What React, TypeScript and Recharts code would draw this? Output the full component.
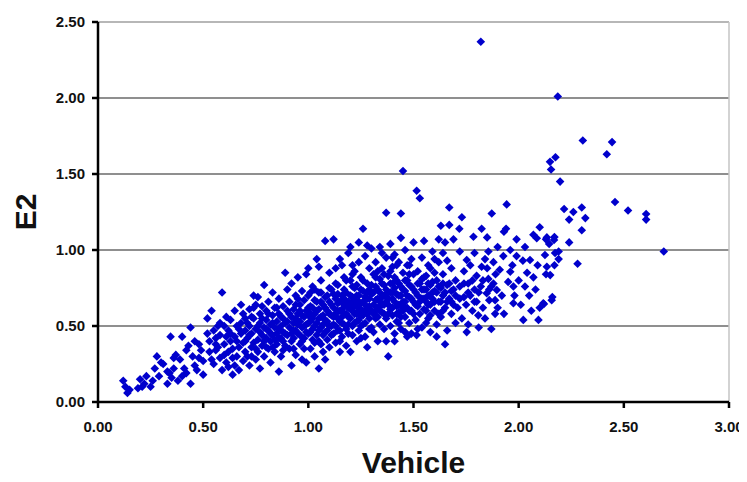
import {
  ScatterChart,
  Scatter,
  XAxis,
  YAxis,
  CartesianGrid,
  ReferenceLine,
  Label
} from 'recharts'

// points, grouped by Vehicle band: [Vehicle, E2]
const lowTail: Array<[number, number]> = [
  [0.12, 0.14], [0.13, 0.10], [0.14, 0.06], [0.15, 0.08], [0.20, 0.15], [0.21, 0.10], [0.22, 0.12],
  [0.23, 0.17], [0.25, 0.10], [0.26, 0.14], [0.28, 0.30], [0.29, 0.17], [0.27, 0.22], [0.30, 0.26],
  [0.19, 0.09],
  [0.31, 0.25], [0.33, 0.12], [0.34, 0.19], [0.345, 0.43], [0.35, 0.16], [0.36, 0.22], [0.37, 0.31],
  [0.38, 0.14], [0.39, 0.28], [0.40, 0.43], [0.40, 0.17], [0.41, 0.22], [0.42, 0.19], [0.43, 0.37],
  [0.44, 0.49], [0.44, 0.12], [0.45, 0.30], [0.46, 0.24], [0.47, 0.21], [0.48, 0.29], [0.48, 0.38],
  [0.49, 0.34], [0.50, 0.18], [0.50, 0.27], [0.36, 0.29], [0.33, 0.20], [0.42, 0.34], [0.46, 0.40]
]

const rising: Array<[number, number]> = [
  [0.52, 0.45], [0.52, 0.55], [0.53, 0.33], [0.54, 0.60], [0.55, 0.25], [0.56, 0.34], [0.56, 0.42],
  [0.57, 0.50], [0.58, 0.29], [0.59, 0.72], [0.59, 0.21], [0.60, 0.38], [0.61, 0.43], [0.61, 0.26],
  [0.62, 0.47], [0.62, 0.33], [0.63, 0.54], [0.63, 0.40], [0.64, 0.18], [0.64, 0.29], [0.65, 0.60],
  [0.65, 0.43], [0.66, 0.30], [0.66, 0.50], [0.67, 0.36], [0.67, 0.21], [0.68, 0.64], [0.68, 0.45],
  [0.69, 0.39], [0.69, 0.27], [0.70, 0.47], [0.70, 0.55], [0.53, 0.40], [0.57, 0.36], [0.60, 0.50],
  [0.58, 0.44], [0.54, 0.28], [0.66, 0.40], [0.62, 0.23], [0.70, 0.33], [0.68, 0.52], [0.55, 0.47],
  [0.71, 0.30], [0.71, 0.42], [0.72, 0.61], [0.72, 0.24], [0.72, 0.50], [0.73, 0.36], [0.73, 0.45],
  [0.74, 0.39], [0.74, 0.70], [0.74, 0.55], [0.75, 0.64], [0.75, 0.28], [0.75, 0.48], [0.76, 0.69],
  [0.76, 0.41], [0.76, 0.33], [0.77, 0.52], [0.77, 0.58], [0.77, 0.22], [0.78, 0.44], [0.78, 0.37],
  [0.78, 0.63], [0.79, 0.77], [0.79, 0.49], [0.79, 0.30], [0.80, 0.54], [0.80, 0.42], [0.80, 0.60],
  [0.81, 0.35], [0.81, 0.47], [0.81, 0.66], [0.82, 0.26], [0.82, 0.51], [0.82, 0.40], [0.83, 0.57],
  [0.83, 0.44], [0.83, 0.72], [0.84, 0.33], [0.84, 0.49], [0.84, 0.62], [0.85, 0.38], [0.85, 0.53],
  [0.85, 0.45], [0.86, 0.20], [0.86, 0.58], [0.86, 0.68], [0.87, 0.42], [0.87, 0.50], [0.87, 0.30],
  [0.88, 0.55], [0.88, 0.63], [0.88, 0.46], [0.89, 0.85], [0.89, 0.37], [0.89, 0.52], [0.90, 0.60],
  [0.90, 0.44], [0.90, 0.74], [0.73, 0.56], [0.71, 0.52], [0.76, 0.50], [0.80, 0.36], [0.84, 0.41],
  [0.86, 0.48], [0.88, 0.40]
]

const core: Array<[number, number]> = [
  [0.91, 0.49], [0.91, 0.66], [0.91, 0.35], [0.92, 0.56], [0.92, 0.24], [0.92, 0.78], [0.93, 0.42],
  [0.93, 0.61], [0.93, 0.52], [0.94, 0.47], [0.94, 0.70], [0.94, 0.31], [0.95, 0.58], [0.95, 0.45],
  [0.95, 0.82], [0.96, 0.38], [0.96, 0.53], [0.96, 0.64], [0.97, 0.49], [0.97, 0.73], [0.97, 0.28],
  [0.98, 0.56], [0.98, 0.42], [0.98, 0.67], [0.99, 0.26], [0.99, 0.51], [0.99, 0.60], [1.00, 0.88],
  [1.00, 0.45], [1.00, 0.57], [1.00, 0.70], [1.01, 0.35], [1.01, 0.53], [1.01, 0.63], [1.02, 0.48],
  [1.02, 0.76], [1.02, 0.41], [1.03, 0.58], [1.03, 0.67], [1.03, 0.30], [1.04, 0.52], [1.04, 0.94],
  [1.04, 0.44], [1.05, 0.22], [1.05, 0.61], [1.05, 0.55], [1.05, 0.72], [1.06, 0.38], [1.06, 0.49],
  [1.06, 0.80], [1.07, 0.57], [1.07, 0.64], [1.07, 0.33], [1.08, 0.28], [1.08, 0.46], [1.08, 0.54],
  [1.08, 1.06], [1.09, 0.60], [1.09, 0.70], [1.09, 0.41], [1.10, 0.50], [1.10, 0.66], [1.10, 0.85],
  [1.10, 0.36], [0.92, 0.45], [0.94, 0.55], [0.96, 0.60], [0.98, 0.50], [1.00, 0.62], [1.02, 0.55],
  [1.04, 0.60], [1.06, 0.66], [1.08, 0.62], [0.95, 0.68], [0.97, 0.40], [1.01, 0.46], [1.03, 0.74],
  [1.07, 0.51], [1.09, 0.53], [0.93, 0.35], [0.99, 0.84], [1.05, 0.89],
  [1.11, 0.57], [1.11, 0.74], [1.11, 0.44], [1.12, 1.07], [1.12, 0.62], [1.12, 0.51], [1.13, 0.39],
  [1.13, 0.68], [1.13, 0.88], [1.14, 0.55], [1.14, 0.47], [1.14, 0.77], [1.15, 0.60], [1.15, 0.33],
  [1.15, 0.94], [1.16, 0.52], [1.16, 0.70], [1.16, 0.43], [1.17, 0.64], [1.17, 0.82], [1.17, 0.58],
  [1.18, 0.48], [1.18, 0.37], [1.18, 0.72], [1.19, 0.56], [1.19, 0.98], [1.19, 0.66], [1.20, 0.33],
  [1.20, 0.61], [1.20, 0.80], [1.21, 0.50], [1.21, 0.69], [1.21, 0.44], [1.22, 0.58], [1.22, 0.86],
  [1.22, 0.75], [1.23, 0.63], [1.23, 0.40], [1.23, 0.53], [1.24, 0.92], [1.24, 0.70], [1.24, 0.47],
  [1.25, 0.57], [1.25, 0.82], [1.25, 0.65], [1.26, 1.14], [1.26, 0.51], [1.26, 0.73], [1.27, 0.60],
  [1.27, 0.43], [1.27, 0.96], [1.28, 0.36], [1.28, 0.68], [1.28, 0.78], [1.29, 0.55], [1.29, 0.88],
  [1.29, 0.63], [1.30, 0.49], [1.30, 1.01], [1.30, 0.71], [1.12, 0.71], [1.14, 0.65], [1.16, 0.61],
  [1.18, 0.64], [1.20, 0.70], [1.22, 0.67], [1.24, 0.60], [1.26, 0.66], [1.28, 0.58], [1.13, 0.58],
  [1.15, 0.53], [1.17, 0.74], [1.19, 0.45], [1.21, 0.84], [1.23, 0.77], [1.25, 0.42], [1.27, 0.69],
  [1.29, 0.74], [1.11, 0.50], [1.16, 0.90], [1.20, 1.02], [1.28, 1.03], [1.24, 1.05]
]

// extra marks where the reference cloud is nearly solid
const coreFill: Array<[number, number]> = [
  [0.56, 0.38], [0.58, 0.52], [0.60, 0.31], [0.61, 0.56], [0.63, 0.45], [0.64, 0.35], [0.65, 0.24],
  [0.67, 0.48], [0.69, 0.58], [0.70, 0.40], [0.72, 0.44], [0.73, 0.30], [0.74, 0.62], [0.75, 0.35],
  [0.77, 0.46], [0.78, 0.55], [0.79, 0.40], [0.80, 0.48], [0.81, 0.58], [0.82, 0.45], [0.83, 0.36],
  [0.83, 0.52], [0.85, 0.62], [0.86, 0.42], [0.87, 0.56], [0.88, 0.34], [0.89, 0.45], [0.90, 0.53],
  [0.91, 0.58], [0.92, 0.40], [0.93, 0.47], [0.94, 0.64], [0.95, 0.51], [0.96, 0.44], [0.97, 0.57],
  [0.98, 0.35], [0.99, 0.46], [1.00, 0.52], [1.01, 0.72], [1.01, 0.58], [1.02, 0.62], [1.03, 0.50],
  [1.03, 0.39], [1.04, 0.66], [1.05, 0.47], [1.06, 0.56], [1.06, 0.72], [1.07, 0.44], [1.08, 0.69],
  [1.09, 0.47], [1.10, 0.58], [1.10, 0.75], [1.11, 0.64], [1.12, 0.45], [1.12, 0.56], [1.13, 0.50],
  [1.14, 0.60], [1.14, 0.71], [1.15, 0.66], [1.15, 0.47], [1.16, 0.56], [1.17, 0.51], [1.17, 0.68],
  [1.18, 0.58], [1.18, 0.80], [1.19, 0.62], [1.19, 0.51], [1.20, 0.55], [1.20, 0.65], [1.21, 0.60],
  [1.21, 0.76], [1.22, 0.52], [1.22, 0.63], [1.23, 0.70], [1.23, 0.58], [1.24, 0.54], [1.24, 0.66],
  [1.25, 0.74], [1.25, 0.61], [1.26, 0.57], [1.26, 0.80], [1.27, 0.64], [1.27, 0.52], [1.28, 0.72],
  [1.28, 0.62], [1.29, 0.68], [1.29, 0.48], [1.30, 0.60], [1.30, 0.77], [1.05, 0.40], [1.15, 0.40],
  [1.25, 0.50], [1.13, 0.78], [1.21, 0.90],
  [1.31, 0.64], [1.31, 0.72], [1.32, 0.60], [1.32, 0.82], [1.33, 0.68], [1.33, 0.56], [1.34, 0.72],
  [1.34, 0.66], [1.35, 0.64], [1.35, 0.78], [1.36, 0.58], [1.36, 0.84], [1.37, 0.66], [1.37, 0.74],
  [1.38, 0.58], [1.38, 0.68], [1.39, 0.72], [1.39, 0.78], [1.40, 0.62], [1.40, 0.72], [1.41, 0.66],
  [1.41, 0.82], [1.42, 0.58], [1.42, 0.90], [1.43, 0.64], [1.43, 0.78], [1.44, 0.70], [1.44, 0.56],
  [1.45, 0.74], [1.45, 0.60], [1.46, 0.80], [1.46, 0.62], [1.47, 0.70], [1.47, 0.90], [1.48, 0.60],
  [1.48, 0.84], [1.49, 0.68], [1.49, 0.94], [1.50, 0.74], [1.50, 0.58], [1.51, 0.64], [1.52, 0.78],
  [1.53, 0.66], [1.54, 0.74], [1.55, 0.68], [1.55, 0.82], [1.56, 0.74], [1.57, 0.78], [1.58, 0.64],
  [1.59, 0.72], [1.60, 0.66], [1.61, 0.72], [1.62, 0.76], [1.63, 0.66], [1.64, 0.78], [1.65, 0.72],
  [1.66, 0.66], [1.67, 0.78], [1.68, 0.66], [1.70, 0.70], [1.72, 0.68], [1.74, 0.78], [1.76, 0.72],
  [1.78, 0.80], [1.79, 0.66], [1.81, 0.72], [1.83, 0.80], [1.86, 0.74], [1.88, 0.78], [1.41, 0.40],
  [1.46, 0.46], [1.52, 0.48], [1.56, 0.60], [1.60, 0.94], [1.64, 0.98], [1.57, 0.55], [1.40, 0.95]
]

const upperMid: Array<[number, number]> = [
  [1.31, 0.58], [1.31, 0.84], [1.31, 0.46], [1.32, 0.67], [1.32, 0.92], [1.32, 0.55], [1.33, 0.74],
  [1.33, 0.40], [1.33, 0.62], [1.34, 0.81], [1.34, 0.51], [1.34, 1.02], [1.35, 0.69], [1.35, 0.59],
  [1.35, 0.88], [1.36, 0.48], [1.36, 0.77], [1.36, 0.64], [1.37, 1.245], [1.37, 0.40], [1.37, 0.55],
  [1.37, 0.95], [1.38, 0.30], [1.38, 0.72], [1.38, 0.83], [1.39, 0.61], [1.39, 0.50], [1.39, 1.04],
  [1.40, 0.68], [1.40, 0.89], [1.40, 0.57], [1.41, 0.75], [1.41, 0.45], [1.41, 0.97], [1.42, 0.63],
  [1.42, 0.80], [1.42, 0.53], [1.43, 0.70], [1.43, 0.92], [1.43, 0.59], [1.44, 1.24], [1.44, 0.76],
  [1.44, 0.48], [1.44, 1.08], [1.45, 1.52], [1.45, 0.66], [1.45, 0.85], [1.46, 0.56], [1.46, 0.73],
  [1.46, 1.00], [1.47, 0.62], [1.47, 0.43], [1.47, 0.80], [1.48, 0.69], [1.48, 0.90], [1.48, 0.52],
  [1.49, 0.76], [1.49, 0.60], [1.50, 0.84], [1.50, 0.66], [1.50, 1.05], [1.32, 0.76], [1.34, 0.60],
  [1.36, 0.70], [1.38, 0.64], [1.40, 0.78], [1.42, 0.71], [1.44, 0.63], [1.46, 0.66], [1.48, 0.77],
  [1.33, 0.86], [1.39, 0.86], [1.43, 0.52], [1.49, 0.45], [1.35, 0.98],
  [1.51, 0.54], [1.51, 0.72], [1.515, 1.39], [1.515, 0.44], [1.52, 0.63], [1.52, 0.86], [1.53, 1.34],
  [1.53, 0.58], [1.53, 0.78], [1.54, 0.49], [1.54, 0.68], [1.54, 0.95], [1.55, 0.74], [1.55, 0.61],
  [1.55, 1.06], [1.56, 0.52], [1.56, 0.83], [1.57, 0.70], [1.57, 0.64], [1.57, 0.90], [1.58, 0.57],
  [1.58, 0.77], [1.58, 0.46], [1.59, 0.68], [1.59, 0.99], [1.60, 0.73], [1.60, 0.60], [1.60, 0.85],
  [1.61, 0.51], [1.61, 0.80], [1.61, 0.43], [1.62, 0.66], [1.62, 1.07], [1.62, 0.92], [1.63, 0.75],
  [1.63, 1.16], [1.63, 0.56], [1.64, 0.70], [1.64, 0.84], [1.65, 0.38], [1.65, 1.05], [1.65, 0.62],
  [1.66, 0.77], [1.66, 0.47], [1.66, 0.93], [1.67, 1.28], [1.67, 1.165], [1.67, 0.68], [1.68, 0.58],
  [1.68, 0.88], [1.68, 0.73], [1.69, 1.07], [1.69, 0.64], [1.70, 0.80], [1.70, 0.52], [1.52, 0.70],
  [1.56, 0.66], [1.59, 0.79], [1.64, 0.60], [1.69, 0.74], [1.54, 0.81], [1.58, 0.88], [1.62, 0.58]
]

const highTail: Array<[number, number]> = [
  [1.718, 1.14], [1.73, 1.215], [1.72, 0.99], [1.753, 0.934], [1.753, 0.46], [1.785, 1.087],
  [1.79, 0.98], [1.808, 0.57], [1.824, 1.14], [1.824, 0.89], [1.848, 0.715], [1.85, 1.083],
  [1.856, 0.99], [1.856, 0.81], [1.872, 1.24], [1.888, 0.58], [1.888, 0.67], [1.896, 0.737],
  [1.71, 0.62], [1.72, 0.76], [1.73, 0.55], [1.74, 0.86], [1.74, 0.69], [1.75, 0.64], [1.76, 0.78],
  [1.76, 0.51], [1.77, 0.90], [1.77, 0.70], [1.78, 0.60], [1.79, 0.74], [1.80, 0.83], [1.80, 0.66],
  [1.81, 0.49], [1.82, 0.76], [1.83, 0.62], [1.84, 0.94], [1.84, 0.55], [1.85, 0.88], [1.86, 0.67],
  [1.87, 0.76], [1.87, 0.48], [1.88, 0.92], [1.89, 0.84], [1.90, 0.62], [1.90, 1.02],
  [1.91, 0.87], [1.927, 0.96], [1.93, 1.12], [1.94, 1.14], [1.943, 1.30], [1.96, 0.857],
  [1.975, 0.65], [1.975, 0.76], [1.99, 0.96], [1.99, 1.07], [2.022, 0.54], [2.03, 0.76],
  [2.04, 0.85], [2.054, 0.934], [2.07, 0.82], [2.086, 1.077], [2.094, 0.54], [2.10, 1.15],
  [1.92, 0.70], [1.93, 0.58], [1.95, 0.79], [1.96, 1.00], [1.97, 0.90], [1.98, 0.70], [2.00, 0.80],
  [2.01, 0.64], [2.02, 0.93], [2.03, 1.02], [2.05, 0.70], [2.06, 0.60], [2.07, 1.10], [2.08, 0.74],
  [2.09, 0.90], [2.10, 0.62],
  [2.117, 0.65], [2.125, 0.967], [2.13, 1.07], [2.134, 0.89], [2.134, 1.083], [2.145, 1.04],
  [2.157, 0.67], [2.16, 0.69], [2.168, 1.066], [2.17, 0.90], [2.17, 1.085], [2.173, 0.98],
  [2.19, 0.99], [2.19, 0.94], [2.216, 1.27], [2.24, 1.20], [2.24, 1.05], [2.26, 1.25], [2.28, 0.91],
  [2.30, 1.28], [2.30, 1.13], [2.13, 0.84], [2.15, 0.835], [2.12, 0.645], [2.317, 1.21]
]

const outliers: Array<[number, number]> = [
  [1.82, 2.37], [2.186, 2.01], [2.149, 1.58], [2.154, 1.53], [2.175, 1.61], [2.197, 1.45],
  [2.305, 1.72], [2.419, 1.63], [2.444, 1.71], [2.458, 1.316], [2.52, 1.26], [2.606, 1.237],
  [2.606, 1.20], [2.69, 0.99]
]

const xTicks = [0, 0.5, 1, 1.5, 2, 2.5, 3]
const yTicks = [0, 0.5, 1, 1.5, 2, 2.5]

const points = [...lowTail, ...rising, ...core, ...coreFill, ...upperMid, ...highTail, ...outliers].map(
  ([x, y]) => ({ x, y })
)

const BLUE = '#0000cc'

function DiamondDot(props: any) {
  const { cx, cy } = props
  if (cx == null || cy == null) return null
  const r = 4.3
  return (
    <polygon
      points={`${cx},${cy - r} ${cx + r},${cy} ${cx},${cy + r} ${cx - r},${cy}`}
      fill={BLUE}
    />
  )
}

const font = 'Liberation Sans, Arial, sans-serif'

const tickStyle = {
  fontFamily: font,
  fontSize: 15,
  fontWeight: 700,
  fill: '#111'
}

const titleStyle = {
  fontFamily: font,
  fontSize: 30,
  fontWeight: 700,
  fill: '#111'
}

export default function App() {
  return (
    <div style={{ width: 739, height: 474 }}>
      <ScatterChart width={739} height={474} margin={{ top: 14, right: 18, bottom: 0, left: 0 }}>
        <CartesianGrid vertical={false} stroke="#6a6a6a" strokeWidth={1.5} />
        <ReferenceLine y={2.5} stroke="#c4c4c4" strokeWidth={1.5} />
        <ReferenceLine x={3} stroke="#c4c4c4" strokeWidth={1.5} />
        <XAxis
          type="number"
          dataKey="x"
          domain={[0, 3]}
          ticks={xTicks}
          tickFormatter={(v: number) => v.toFixed(2)}
          tick={tickStyle}
          tickSize={6}
          tickMargin={13}
          height={80}
          axisLine={{ stroke: '#000', strokeWidth: 2.5 }}
          tickLine={{ stroke: '#000', strokeWidth: 2.5 }}
        >
          <Label value="Vehicle" position="insideBottom" offset={9} style={titleStyle} />
        </XAxis>
        <YAxis
          type="number"
          dataKey="y"
          domain={[0, 2.5]}
          ticks={yTicks}
          tickFormatter={(v: number) => v.toFixed(2)}
          tick={tickStyle}
          tickSize={6}
          tickMargin={7}
          width={90}
          axisLine={{ stroke: '#000', strokeWidth: 2.5 }}
          tickLine={{ stroke: '#000', strokeWidth: 2.5 }}
        >
          <Label
            value="E2"
            angle={-90}
            position="insideLeft"
            offset={17}
            style={{ ...titleStyle, textAnchor: 'middle' }}
          />
        </YAxis>
        <Scatter data={points} shape={<DiamondDot />} isAnimationActive={false} />
      </ScatterChart>
    </div>
  )
}
